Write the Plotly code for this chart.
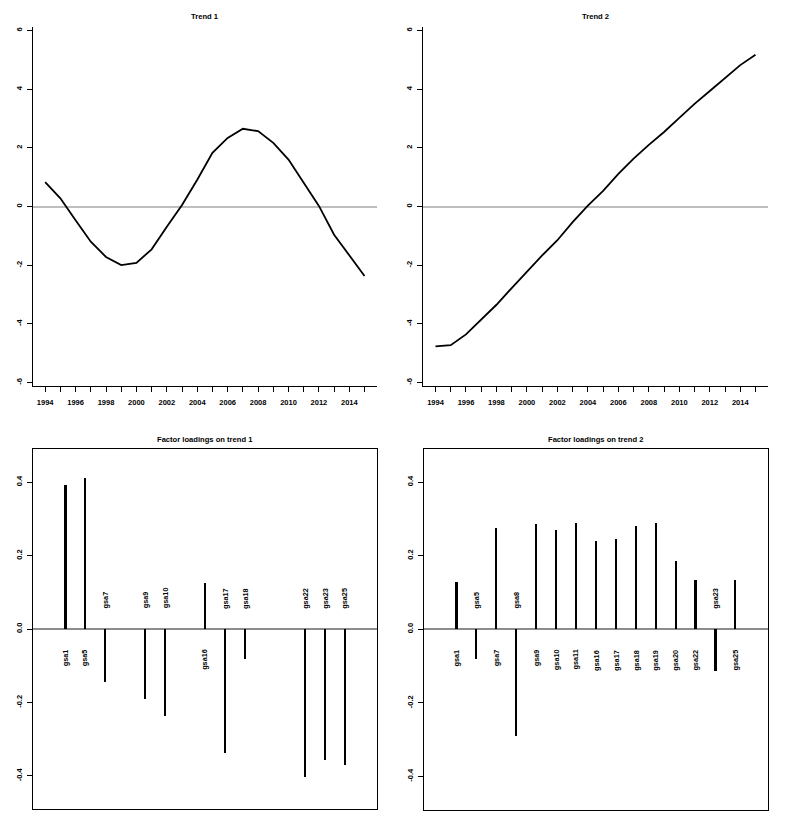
import plotly.graph_objects as go

# trends (rotated), one value per year
years = list(range(1994, 2016))
trend1 = [0.83, 0.28, -0.47, -1.20, -1.72, -2.00, -1.92, -1.46, -0.69, 0.05, 0.91,
          1.83, 2.34, 2.65, 2.57, 2.17, 1.60, 0.82, 0.02, -0.96, -1.67, -2.37]
trend2 = [-4.77, -4.73, -4.36, -3.87, -3.35, -2.78, -2.22, -1.67, -1.15, -0.53, 0.03,
          0.53, 1.11, 1.63, 2.10, 2.54, 3.02, 3.50, 3.94, 4.39, 4.82, 5.17]

# loadings, None where |loading| below the plotting threshold
series = ["gsa1", "gsa5", "gsa7", "gsa8", "gsa9", "gsa10", "gsa11", "gsa16",
          "gsa17", "gsa18", "gsa19", "gsa20", "gsa22", "gsa23", "gsa25"]
load1 = [0.393, 0.412, -0.145, None, -0.19, -0.237, None, 0.125,
         -0.338, -0.082, None, None, -0.404, -0.356, -0.371]
load2 = [0.128, -0.082, 0.275, -0.291, 0.286, 0.269, 0.289, 0.24,
         0.245, 0.28, 0.289, 0.185, 0.133, -0.113, 0.135]

trend_ticks = [-6, -4, -2, 0, 2, 4, 6]
trend_ticktext = ["-6", "-4", "-2", "0", "2", "4", "6"]
load_ticks = [-0.4, -0.2, 0.0, 0.2, 0.4]
load_ticktext = ["-0.4", "-0.2", "0.0", "0.2", "0.4"]
year_ticktext = [str(y) if y % 2 == 0 else "" for y in years]

# page body has an 8px margin, so the figure is shifted by OFF
OFF = 8
W, H = 770, 810
FONT = "Liberation Sans, Arial, sans-serif"


def px_x(a, b):
    return [(a - OFF) / W, (b - OFF) / W]


def px_y(top, bottom):
    return [1 - (bottom - OFF) / H, 1 - (top - OFF) / H]


fig = go.Figure()

# panel boxes in screen pixels
panels = {
    "tl": (px_x(32.7, 377), px_y(26.7, 386.3)),
    "tr": (px_x(423, 768), px_y(26.7, 386.3)),
    "bl": (px_x(32.7, 377.3), px_y(449, 809)),
    "br": (px_x(423.7, 768), px_y(449, 809.5)),
}

tick_font = dict(family=FONT, size=7.5, color="black", weight="bold")
label_font = dict(family=FONT, size=7.3, color="black", weight="bold")
title_font = dict(family=FONT, size=7.6, color="black", weight="bold")

trend_x = dict(range=[1993.18, 2015.82], tickmode="array", tickvals=years,
               ticktext=year_ticktext, ticks="outside", ticklen=5, tickwidth=1,
               tickcolor="black", showline=True, linecolor="black", linewidth=1,
               showgrid=False, zeroline=False, tickfont=tick_font, tickangle=0,
               ticklabelstandoff=4)
trend_y = dict(range=[-6.13, 6.13], tickmode="array", tickvals=trend_ticks,
               ticktext=trend_ticktext, ticks="outside", ticklen=5, tickwidth=1,
               tickcolor="black", showline=True, linecolor="black", linewidth=1,
               showgrid=False, zeroline=True, zerolinecolor="#bebebe",
               zerolinewidth=1.5, tickfont=tick_font, tickangle=-90,
               ticklabelstandoff=2)
load_x = dict(range=[-0.64, 16.64], showticklabels=False, ticks="",
              showline=True, mirror=True, linecolor="black", linewidth=1,
              showgrid=False, zeroline=False)
load_y = dict(range=[-0.49, 0.49], tickmode="array", tickvals=load_ticks,
              ticktext=load_ticktext, ticks="outside", ticklen=5, tickwidth=1,
              tickcolor="black", showline=True, mirror=True, linecolor="black",
              linewidth=1, showgrid=False, zeroline=True, zerolinecolor="#8c8c8c",
              zerolinewidth=1.5, tickfont=tick_font, tickangle=-90,
              ticklabelstandoff=2)

layout = dict(
    width=W, height=H, margin=dict(l=0, r=0, t=0, b=0),
    paper_bgcolor="white", plot_bgcolor="white", showlegend=False,
    font=dict(family=FONT, color="black"),
    xaxis=dict(domain=panels["tl"][0], anchor="y", **trend_x),
    yaxis=dict(domain=panels["tl"][1], anchor="x", **trend_y),
    xaxis2=dict(domain=panels["tr"][0], anchor="y2", **trend_x),
    yaxis2=dict(domain=panels["tr"][1], anchor="x2", **trend_y),
    xaxis3=dict(domain=panels["bl"][0], anchor="y3", **load_x),
    yaxis3=dict(domain=panels["bl"][1], anchor="x3", **load_y),
    xaxis4=dict(domain=panels["br"][0], anchor="y4", **load_x),
    yaxis4=dict(domain=panels["br"][1], anchor="x4", **load_y),
)
fig.update_layout(**layout)

# trends
fig.add_trace(go.Scatter(x=years, y=trend1, mode="lines", xaxis="x", yaxis="y",
                         line=dict(color="black", width=1.8)))
fig.add_trace(go.Scatter(x=years, y=trend2, mode="lines", xaxis="x2", yaxis="y2",
                         line=dict(color="black", width=1.8)))

# loadings as thin vertical bars + rotated names
annotations = []
for vals, xa, ya in [(load1, "x3", "y3"), (load2, "x4", "y4")]:
    idx = [i + 1 for i, v in enumerate(vals) if v is not None]
    ys = [v for v in vals if v is not None]
    fig.add_trace(go.Bar(x=idx, y=ys, width=0.085, xaxis=xa, yaxis=ya,
                         marker=dict(color="black", line=dict(width=0))))
    for i, v in enumerate(vals):
        if v is None:
            continue
        annotations.append(dict(
            x=i + 1, y=-0.05 if v > 0 else 0.05, xref=xa, yref=ya,
            text=series[i], showarrow=False, textangle=-90,
            xanchor="center", yanchor="top" if v > 0 else "bottom",
            font=label_font))

# panel titles
titles = ["Trend 1", "Trend 2", "Factor loadings on trend 1", "Factor loadings on trend 2"]
title_y = [16.7, 16.7, 439.7, 439.7]
for t, key, ty in zip(titles, ["tl", "tr", "bl", "br"], title_y):
    xd = panels[key][0]
    annotations.append(dict(
        x=(xd[0] + xd[1]) / 2, y=1 - (ty - OFF) / H, xref="paper", yref="paper",
        text=t, showarrow=False, xanchor="center", yanchor="middle",
        font=title_font))

fig.update_layout(annotations=annotations, bargap=0)

fig.write_html("out.html")
